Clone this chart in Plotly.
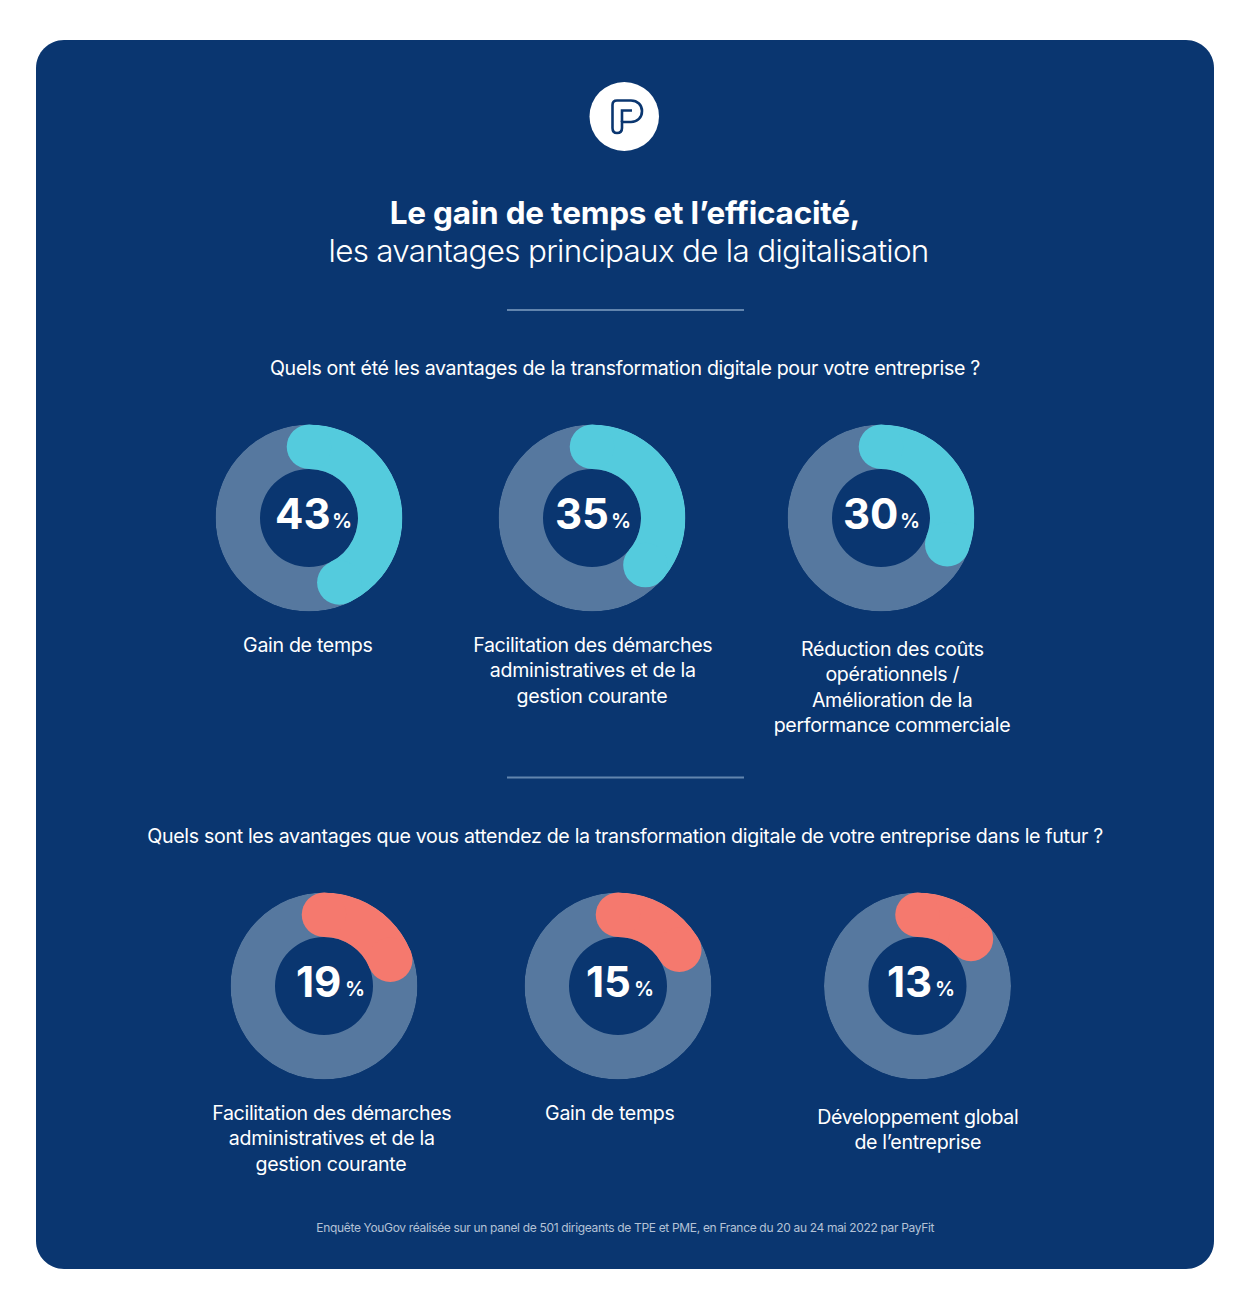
import plotly.graph_objects as go

W, H = 1248, 1307
FONT = "Inter, Roboto, sans-serif"
NAVY, TRACK, CYAN, CORAL, RULE = "#0A3670", "#56789F", "#54CBDD", "#F5796E", "#6285AE"

# ---- data ----
values_current = [43, 35, 30]
values_future = [19, 15, 13]
# the arcs as drawn in the picture run a little past the printed figures
arcs_current = [43, 36.5, 31]
arcs_future = [19, 16.5, 13.5]
labels_current = [
    ["Gain de temps"],
    ["Facilitation des démarches", "administratives et de la", "gestion courante"],
    ["Réduction des coûts", "opérationnels /", "Amélioration de la", "performance commerciale"],
]
labels_future = [
    ["Facilitation des démarches", "administratives et de la", "gestion courante"],
    ["Gain de temps"],
    ["Développement global", "de l’entreprise"],
]
title_bold = "Le gain de temps et l’efficacité,"
title_light = "les avantages principaux de la digitalisation"
question_current = "Quels ont été les avantages de la transformation digitale pour votre entreprise ?"
question_future = "Quels sont les avantages que vous attendez de la transformation digitale de votre entreprise dans le futur ?"
footnote = "Enquête YouGov réalisée sur un panel de 501 dirigeants de TPE et PME, en France du 20 au 24 mai 2022 par PayFit"

# ---- layout geometry (pixels) ----
centers_current = [(309, 518), (592, 518), (881, 518)]
centers_future = [(324, 986), (618, 986), (917.5, 986)]
num_off_current = [(-6.5, 33), (-10.5, 29), (-10.5, 29)]
num_off_future = [(-5.5, 31), (-9.5, 26), (-8.5, 27)]
label_pos_current = [(308, 645), (592, 645), (892, 649)]
label_pos_future = [(331, 1113), (610, 1113), (917.5, 1117)]
R_OUT, R_IN, CAP_PX = 93.5, 49.0, 44.5


def px(x):
    return x / W


def py(y):
    return 1 - y / H


fig = go.Figure()
annotations = []
polars = {}


def text(x, y, s, size, color="white", weight=400, anchor="center"):
    annotations.append(dict(
        x=px(x), y=py(y), xref="paper", yref="paper", text=s, showarrow=False,
        xanchor=anchor, yanchor="middle", borderpad=0,
        font=dict(family=FONT, size=size, color=color, weight=weight),
    ))


def donut(idx, center, value, arc, offs, color):
    cx, cy = center
    name = "polar" if idx == 1 else f"polar{idx}"
    polars[name] = dict(
        domain=dict(x=[px(cx - R_OUT), px(cx + R_OUT)], y=[py(cy + R_OUT), py(cy - R_OUT)]),
        bgcolor="rgba(0,0,0,0)",
        hole=0,
        radialaxis=dict(range=[0, R_OUT], visible=False),
        angularaxis=dict(direction="clockwise", rotation=90, visible=False),
    )
    mid = (R_OUT + R_IN) / 2
    band = R_OUT - R_IN
    fig.add_trace(go.Barpolar(
        r=[band], base=[R_IN], theta=[180], width=[360], subplot=name,
        marker=dict(color=TRACK, line=dict(width=0)), showlegend=False, hoverinfo="skip",
    ))
    fig.add_trace(go.Barpolar(
        r=[band], base=[R_IN], theta=[arc * 1.8], width=[arc * 3.6], subplot=name,
        marker=dict(color=color, line=dict(width=0)), showlegend=False,
    ))
    fig.add_trace(go.Scatterpolar(
        r=[mid, mid], theta=[0, arc * 3.6], mode="markers", subplot=name,
        marker=dict(color=color, size=CAP_PX, line=dict(width=0)),
        showlegend=False, hoverinfo="skip",
    ))
    text(cx + offs[0], cy - 5, str(value), 42, weight=700)
    text(cx + offs[1], cy + 3, "%", 20, weight=600)


def label(pos, lines):
    x, y = pos
    for i, line in enumerate(lines):
        text(x, y + i * 25.3, line, 19.6, weight=400)


i = 1
for c, v, a, o, l, lp in zip(centers_current, values_current, arcs_current, num_off_current,
                             labels_current, label_pos_current):
    donut(i, c, v, a, o, CYAN)
    label(lp, l)
    i += 1
for c, v, a, o, l, lp in zip(centers_future, values_future, arcs_future, num_off_future,
                             labels_future, label_pos_future):
    donut(i, c, v, a, o, CORAL)
    label(lp, l)
    i += 1

text(625, 212.5, title_bold, 31.5, weight=700)
text(628.5, 251, title_light, 31.4, weight=300)
text(625, 368, question_current, 19.6)
text(625, 836, question_future, 19.6)
text(625, 1227, footnote, 12.01, color="#B4C2D6")


def rounded(x0, y0, x1, y1, r):
    k = 0.5523 * r
    pts = [
        f"M{px(x0 + r)},{py(y0)}", f"L{px(x1 - r)},{py(y0)}",
        f"C{px(x1 - r + k)},{py(y0)} {px(x1)},{py(y0 + r - k)} {px(x1)},{py(y0 + r)}",
        f"L{px(x1)},{py(y1 - r)}",
        f"C{px(x1)},{py(y1 - r + k)} {px(x1 - r + k)},{py(y1)} {px(x1 - r)},{py(y1)}",
        f"L{px(x0 + r)},{py(y1)}",
        f"C{px(x0 + r - k)},{py(y1)} {px(x0)},{py(y1 - r + k)} {px(x0)},{py(y1 - r)}",
        f"L{px(x0)},{py(y0 + r)}",
        f"C{px(x0)},{py(y0 + r - k)} {px(x0 + r - k)},{py(y0)} {px(x0 + r)},{py(y0)}", "Z",
    ]
    return " ".join(pts)


def glyph(cmds):
    out = []
    for c in cmds:
        out.append(c[0] + " ".join(f"{px(a)},{py(b)}" for a, b in c[1:]))
    return " ".join(out)


P_OUTER = glyph([
    ("M", (612.5, 105)), ("C", (612.5, 102), (614, 100.5), (617, 100.5)),
    ("L", (631, 100.5)), ("C", (637.5, 100.5), (642, 105), (642, 111)),
    ("C", (642, 117.5), (637.5, 122), (631, 122)), ("L", (622, 122)), ("L", (622, 128)),
    ("C", (622, 131.5), (620, 133), (617, 133)), ("C", (614, 133), (612.5, 131.5), (612.5, 128)), ("Z",),
])
P_INNER = glyph([("M", (622, 122)), ("L", (622, 110.5)), ("L", (632, 110.5))])

shapes = [
    dict(type="path", path=rounded(36, 40, 1214, 1269, 28), xref="paper", yref="paper",
         fillcolor=NAVY, line=dict(width=0), layer="below"),
    dict(type="circle", xref="paper", yref="paper", x0=px(589.5), x1=px(659), y0=py(151), y1=py(82),
         fillcolor="white", line=dict(width=0), layer="below"),
    dict(type="path", path=P_OUTER, xref="paper", yref="paper", fillcolor="white",
         line=dict(color=NAVY, width=2.6), layer="below"),
    dict(type="path", path=P_INNER, xref="paper", yref="paper",
         line=dict(color=NAVY, width=2.6), layer="below"),
]
for y in (310, 777.5):
    shapes.append(dict(type="line", xref="paper", yref="paper", x0=px(507), x1=px(744), y0=py(y), y1=py(y),
                       line=dict(color=RULE, width=2), layer="below"))

fig.update_layout(
    width=W, height=H, margin=dict(l=0, r=0, t=0, b=0), autosize=False,
    paper_bgcolor="white", plot_bgcolor="white",
    showlegend=False, shapes=shapes, annotations=annotations,
    **polars,
)

# tighter tracking, as in the original's typesetting
POST = """
document.body.style.margin='0';
function track(){
  var map={'19.6':'-0.32px','31.5':'-0.22px','31.4':'-0.69px','12.01':'-0.33px'};
  document.querySelectorAll('.annotation-text').forEach(function(t){
    var s=parseFloat(t.style.fontSize);
    var k=String(s);
    if(map[k]) t.style.letterSpacing=map[k];
  });
}
track(); setTimeout(track,50); setTimeout(track,400);
"""
fig.write_html("out.html", post_script=POST, config=dict(displayModeBar=False))
